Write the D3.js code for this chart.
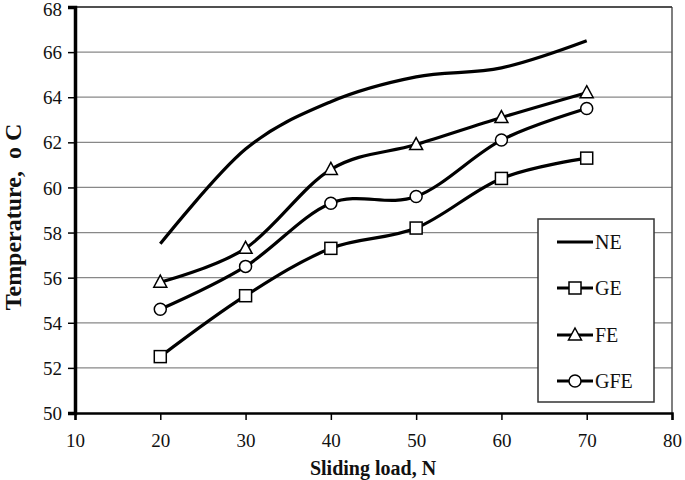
<!DOCTYPE html>
<html><head><meta charset="utf-8">
<script src="https://cdn.jsdelivr.net/npm/d3@7"></script>
<style>body{margin:0;background:#fff}svg{display:block}</style>
</head><body>
<svg id="c" width="685" height="480"></svg>
<script>
const loads = [20, 30, 40, 50, 60, 70];
const NE  = [57.5, 61.7, 63.8, 64.9, 65.3, 66.5];
const GE  = [52.5, 55.2, 57.3, 58.2, 60.4, 61.3];
const FE  = [55.8, 57.3, 60.8, 61.9, 63.1, 64.2];
const GFE = [54.6, 56.5, 59.3, 59.6, 62.1, 63.5];
const seriesNames = ["NE", "GE", "FE", "GFE"];
const seriesMarkers = ["none", "square", "triangle", "circle"];
const xTicks = [10, 20, 30, 40, 50, 60, 70, 80];
const yTicks = [50, 52, 54, 56, 58, 60, 62, 64, 66, 68];
const xTitle = "Sliding load, N";
const yTitle = "Temperature,  o C";

const series = [NE, GE, FE, GFE].map((v, i) => ({name: seriesNames[i], marker: seriesMarkers[i], values: v}));

const svg = d3.select("#c");
const L = 75, R = 672, T = 7, B = 413;
const x = d3.scaleLinear().domain([10, 80]).range([L, R]);
const y = d3.scaleLinear().domain([50, 68]).range([B, T]);
const font = "'Liberation Serif', 'Times New Roman', serif";

// gridlines
svg.append("g").selectAll("line").data(yTicks.slice(1)).join("line")
  .attr("x1", L).attr("x2", R).attr("y1", d => y(d)).attr("y2", d => y(d))
  .attr("stroke", "#888").attr("stroke-width", 1.3);
svg.append("line").attr("x1", R).attr("x2", R).attr("y1", T).attr("y2", B).attr("stroke", "#555").attr("stroke-width", 1.5);
svg.append("line").attr("x1", L).attr("x2", R).attr("y1", T).attr("y2", T).attr("stroke", "#333").attr("stroke-width", 1.5);

// axes
const yAxis = svg.append("g").attr("transform", `translate(${L},0)`)
  .call(d3.axisLeft(y).tickValues(yTicks).tickSize(7).tickPadding(6).tickFormat(d3.format("d")));
const xAxis = svg.append("g").attr("transform", `translate(0,${B})`)
  .call(d3.axisBottom(x).tickValues(xTicks).tickSize(7).tickPadding(6).tickFormat(d3.format("d")));
[yAxis, xAxis].forEach(a => {
  a.selectAll("text").attr("font-family", font).attr("font-size", 19).attr("fill", "#111");
  a.selectAll("line").attr("stroke", "#000").attr("stroke-width", 1.5);
});
xAxis.selectAll("text").attr("dy", "1.1em");
yAxis.selectAll("text").attr("dy", d => d === 68 ? "0.45em" : "0.35em");
yAxis.select(".domain").attr("stroke", "#000").attr("stroke-width", 3.5);
xAxis.select(".domain").attr("stroke", "#000").attr("stroke-width", 2.5);

// lines
const line = d3.line().x((d, i) => x(loads[i])).y(d => y(d)).curve(d3.curveCatmullRom.alpha(0));
svg.append("g").selectAll("path").data(series).join("path")
  .attr("d", s => line(s.values)).attr("fill", "none").attr("stroke", "#000").attr("stroke-width", 3.2);

function drawMarker(g, type, cx, cy) {
  if (type === "square") {
    g.append("rect").attr("x", cx - 6).attr("y", cy - 6).attr("width", 12).attr("height", 12)
      .attr("fill", "#fff").attr("stroke", "#000").attr("stroke-width", 1.5);
  } else if (type === "triangle") {
    g.append("path").attr("d", `M${cx},${cy - 7}L${cx + 6.5},${cy + 5}L${cx - 6.5},${cy + 5}Z`)
      .attr("fill", "#fff").attr("stroke", "#000").attr("stroke-width", 1.5);
  } else if (type === "circle") {
    g.append("circle").attr("cx", cx).attr("cy", cy).attr("r", 6)
      .attr("fill", "#fff").attr("stroke", "#000").attr("stroke-width", 1.5);
  }
}
const mg = svg.append("g");
series.forEach(s => s.values.forEach((v, i) => drawMarker(mg, s.marker, x(loads[i]), y(v))));

// legend
const lg = svg.append("g");
lg.append("rect").attr("x", 538).attr("y", 219).attr("width", 116).attr("height", 183)
  .attr("fill", "#fff").attr("stroke", "#333").attr("stroke-width", 1.5);
const legY = [242, 288, 335, 381];
series.forEach((s, i) => {
  lg.append("line").attr("x1", 557).attr("x2", 593).attr("y1", legY[i]).attr("y2", legY[i])
    .attr("stroke", "#000").attr("stroke-width", 3.2);
  drawMarker(lg, s.marker, 575, legY[i]);
  lg.append("text").attr("x", 595).attr("y", legY[i]).attr("dy", "0.35em")
    .attr("font-family", font).attr("font-size", 20).attr("fill", "#111").text(s.name);
});

// titles
svg.append("text").attr("x", 373).attr("y", 475).attr("text-anchor", "middle")
  .attr("font-family", font).attr("font-size", 20).attr("font-weight", "bold").attr("fill", "#111").text(xTitle);
svg.append("text").attr("transform", "translate(21,217) rotate(-90)").attr("text-anchor", "middle")
  .attr("font-family", font).attr("font-size", 24).attr("font-weight", "bold").attr("fill", "#111")
  .attr("xml:space", "preserve").style("white-space", "pre").text(yTitle);
</script>
</body></html>
